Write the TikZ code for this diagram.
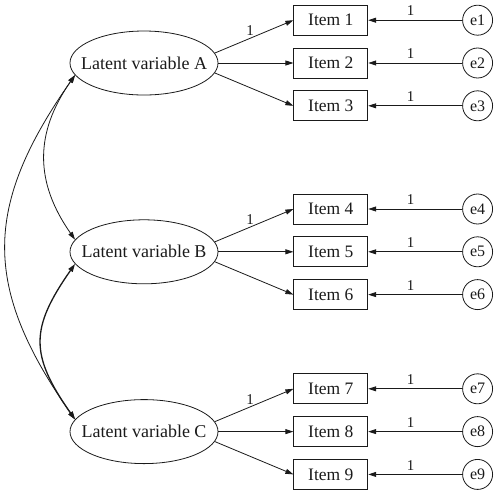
\documentclass[tikz,border=0pt]{standalone}
\usepackage{fontspec}
\setmainfont{Liberation Serif}
\usepackage{tikz}
\usetikzlibrary{arrows.meta, positioning, shapes.geometric}
\definecolor{trait}{HTML}{1A1A1A}
\tikzset{
  latente/.style={ellipse, draw=trait, line width=0.8pt, text=trait,
    font=\fontsize{18}{21}\selectfont, minimum width=148pt,
    minimum height=64pt, inner xsep=-20pt, inner ysep=0pt},
  indicateur/.style={rectangle, draw=trait, line width=0.8pt, text=trait,
    font=\fontsize{17.5}{20}\selectfont, minimum width=74pt,
    minimum height=30pt, inner sep=0pt},
  erreur/.style={circle, draw=trait, line width=0.8pt, text=trait,
    font=\fontsize{16}{18}\selectfont, minimum size=30pt, inner sep=0pt},
  fleche/.style={->, line width=0.8pt, color=trait},
  covar/.style={<->, line width=0.8pt, color=trait},
  etiquette/.style={font=\fontsize{15}{17}\selectfont, text=trait, inner sep=2pt}
}

\begin{document}
\begin{tikzpicture}[node distance=12pt and 75pt, >={Triangle[length=8pt,width=5pt]}]
    \useasboundingbox (0,0) rectangle (497pt,-491pt);
    % variables latentes
    \node[latente] (latA) at (144pt,-63pt) {Latent variable A};
    \node[latente, below=124pt of latA] (latB) {Latent variable B};
    \node[latente, below=115pt of latB] (latC) {Latent variable C};

    % indicateurs
    \node[indicateur, right=of latA] (item2) {Item 2};
    \node[indicateur, above=of item2] (item1) {Item 1};
    \node[indicateur, below=of item2] (item3) {Item 3};
    \node[indicateur, right=of latB] (item5) {Item 5};
    \node[indicateur, above=of item5] (item4) {Item 4};
    \node[indicateur, below=of item5] (item6) {Item 6};
    \node[indicateur, right=of latC] (item8) {Item 8};
    \node[indicateur, above=of item8] (item7) {Item 7};
    \node[indicateur, below=of item8] (item9) {Item 9};

    % erreurs
    \foreach \i in {1,...,9} {
      \node[erreur, right=94pt of item\i] (e\i) {e\i};
      \draw[fleche] (e\i) -- node[etiquette, pos=0.55, above=2pt]{1} (item\i);
    }

    % saturations
    \foreach \lat/\ia/\ib/\ic in {latA/item1/item2/item3, latB/item4/item5/item6, latC/item7/item8/item9} {
      \draw[fleche] (\lat.8) -- node[etiquette, pos=0.45, above]{1} (\ia.west);
      \draw[fleche] (\lat.east) -- (\ib.west);
      \draw[fleche] (\lat.-8) -- (\ic.west);
    }

    % covariances
    \draw[covar] (latA.190) to[out=235, in=125, looseness=1.1] (latB.170);
    \draw[covar, line width=1.3pt] (latB.190) to[out=235, in=125, looseness=1.3] (latC.170);
    \draw[covar] (latA.190) to[out=235, in=125, looseness=1.2] (latC.170);
  \end{tikzpicture}
\end{document}
